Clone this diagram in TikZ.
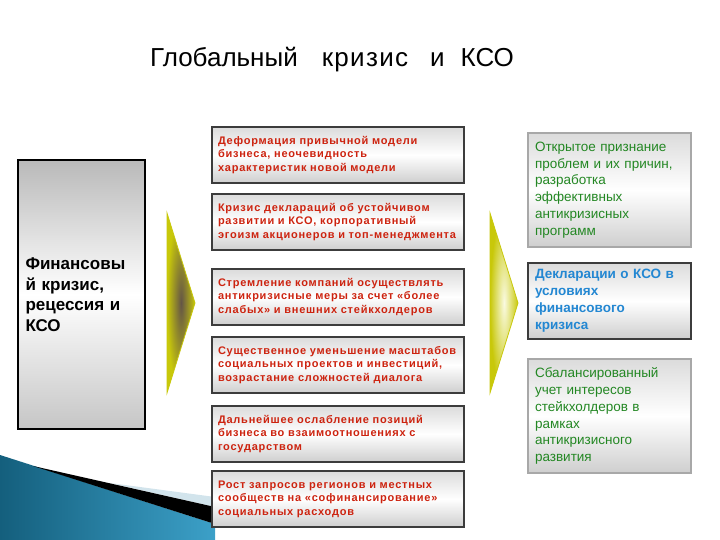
\documentclass[tikz,border=0pt]{standalone}
\usepackage{fontspec}
\setmainfont{Liberation Sans}
\usetikzlibrary{positioning}

\definecolor{edgedark}{RGB}{60,60,60}
\definecolor{edgelight}{RGB}{168,168,168}
\definecolor{factred}{RGB}{205,35,15}
\definecolor{waygreen}{RGB}{35,135,35}
\definecolor{declblue}{RGB}{35,135,210}
\definecolor{arrowyellow}{RGB}{200,200,10}
\definecolor{arrowdark}{RGB}{100,85,70}
\definecolor{arrowpale}{RGB}{250,250,225}
\definecolor{seadark}{RGB}{20,95,125}
\definecolor{sealight}{RGB}{60,160,200}
\definecolor{seafoam}{RGB}{210,228,236}

\begin{document}
\begin{tikzpicture}[x=1pt,y=-1pt,
  panel/.style={line width=2.5pt, top color=gray!28, bottom color=gray!38,
    middle color=white, inner ysep=0pt, align=left},
  fact/.style={panel, draw=edgedark, text=factred, minimum width=252pt,
    minimum height=56pt, text width=240pt, inner xsep=6pt,
    font=\bfseries\fontsize{11}{13.5}\selectfont\addfontfeatures{LetterSpace=7}},
  way/.style={panel, draw=edgelight, text=waygreen, minimum width=163pt,
    text width=149pt, inner xsep=7pt, font=\fontsize{13.5}{16.8}\selectfont},
]
  \useasboundingbox (0,0) rectangle (720,540);
  \fill[white] (0,0) rectangle (720,540);

  % sea corner
  \shade[left color=seadark, right color=sealight]
    (0,455) -- (215,524) -- (215,540) -- (0,540) -- cycle;
  \fill[seafoam] (110,483) -- (215,497) -- (215,507) -- cycle;
  \fill[black] (33,466) -- (215,507) -- (215,524) -- cycle;

  \node[anchor=base west, inner sep=0pt, font=\fontsize{26}{30}\selectfont] (title) at (150,67)
    {Глобальный\hspace*{24pt}{\addfontfeatures{LetterSpace=5}кризис}\hspace*{22pt}и\hspace*{16pt}КСО};

  \node[panel, draw=black, minimum width=127pt, minimum height=269pt,
    text width=112pt, inner xsep=7.5pt, top color=gray!55, bottom color=gray!45,
    middle color=white, font=\bfseries\fontsize{17}{20.5}\selectfont] (crisis)
    at (81.5,294.5) {Финансовы\\й кризис,\\рецессия и\\КСО};

  % consequences
  \node[fact] (deform) at (338,155) {Деформация привычной модели\\бизнеса, неочевидность\\характеристик новой модели};
  \node[fact] (declcrisis) at (338,222) {Кризис деклараций об устойчивом\\развитии и КСО, корпоративный\\эгоизм акционеров и топ-менеджмента};
  \node[fact] (shift) at (338,297) {Стремление компаний осуществлять\\антикризисные меры за счет «более\\слабых» и внешних стейкхолдеров};
  \node[fact] (cut) at (338,365) {Существенное уменьшение масштабов\\социальных проектов и инвестиций,\\возрастание сложностей диалога};
  \node[fact] (weak) at (338,434) {Дальнейшее ослабление позиций\\бизнеса во взаимоотношениях с\\государством};
  \node[fact] (cofin) at (338,499) {Рост запросов регионов и местных\\сообществ на «софинансирование»\\социальных расходов};

  % ways out
  \node[way, minimum height=114pt] (admit) at (609.5,190)
    {Открытое признание\\проблем и их причин,\\разработка\\эффективных\\антикризисных\\программ};
  \node[way, draw=edgedark, text=declblue, minimum height=76pt,
    font=\bfseries\fontsize{13.5}{17}\selectfont] (declare) at (609.5,301)
    {Декларации о КСО в\\условиях\\финансового\\кризиса};
  \node[way, minimum height=114pt] (balance) at (609.5,416)
    {Сбалансированный\\учет интересов\\стейкхолдеров в\\рамках\\антикризисного\\развития};

  % chevrons
  \shadedraw[draw=arrowyellow, line width=0.8pt, shading=radial,
    inner color=arrowdark, outer color=arrowyellow]
    (167,213) -- (195,303) -- (167,393) -- cycle;
  \shadedraw[draw=arrowyellow, line width=0.8pt, shading=radial,
    inner color=arrowpale, outer color=arrowyellow]
    (490,213) -- (518,303) -- (490,393) -- cycle;
\end{tikzpicture}
\end{document}
